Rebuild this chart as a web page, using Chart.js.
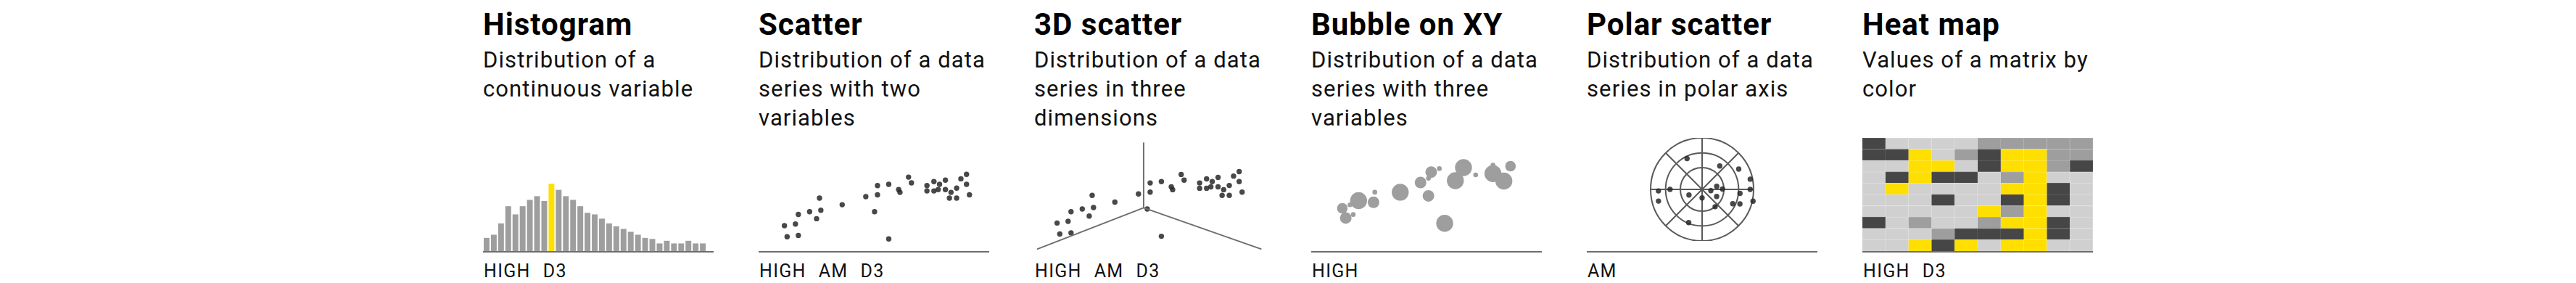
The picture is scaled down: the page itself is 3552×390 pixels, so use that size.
<!DOCTYPE html>
<html>
<head>
<meta charset="utf-8">
<title>Distribution charts</title>
<script src="https://cdn.jsdelivr.net/npm/chart.js@4.4.1/dist/chart.umd.min.js"></script>
<style>
  html, body { margin: 0; padding: 0; background: #fff; }
  body { width: 3552px; height: 390px; position: relative; overflow: hidden; font-family: Roboto, "Noto Sans", sans-serif; }
  .panel { position: absolute; top: 0; width: 320px; height: 390px; }
  .panel h2 { position: absolute; left: 0; top: 13px; margin: 0; font-size: 42px; line-height: 42px; font-weight: 700; letter-spacing: 1px; color: #000; white-space: nowrap; }
  .panel p { position: absolute; left: 0; top: 63px; margin: 0; font-size: 31px; line-height: 40px; letter-spacing: 1.1px; color: #111; white-space: nowrap; }
  .plot { position: absolute; left: 0; }
  .base { position: absolute; left: 0; top: 346px; width: 318px; height: 2px; background: #6e6e6e; }
  .tags { position: absolute; left: 1px; top: 361px; font-size: 25px; line-height: 25px; letter-spacing: 1.3px; color: #111; white-space: nowrap; }
  .tags span { margin-right: 17px; }
</style>
</head>
<body>

<div class="panel" style="left:666px">
  <h2>Histogram</h2>
  <p>Distribution of a<br>continuous variable</p>
  <canvas id="c-hist" class="plot" width="318" height="160" style="top:186px"></canvas>
  <div class="base"></div>
  <div class="tags"><span>HIGH</span><span>D3</span></div>
</div>

<div class="panel" style="left:1046px">
  <h2>Scatter</h2>
  <p>Distribution of a data<br>series with two<br>variables</p>
  <canvas id="c-scatter" class="plot" width="318" height="160" style="top:186px"></canvas>
  <div class="base"></div>
  <div class="tags"><span>HIGH</span><span>AM</span><span>D3</span></div>
</div>

<div class="panel" style="left:1426px">
  <h2>3D scatter</h2>
  <p>Distribution of a data<br>series in three<br>dimensions</p>
  <canvas id="c-3d" class="plot" width="318" height="164" style="top:186px"></canvas>
  <div class="tags"><span>HIGH</span><span>AM</span><span>D3</span></div>
</div>

<div class="panel" style="left:1808px">
  <h2>Bubble on XY</h2>
  <p>Distribution of a data<br>series with three<br>variables</p>
  <canvas id="c-bubble" class="plot" width="318" height="160" style="top:186px"></canvas>
  <div class="base"></div>
  <div class="tags"><span>HIGH</span></div>
</div>

<div class="panel" style="left:2188px">
  <h2>Polar scatter</h2>
  <p>Distribution of a data<br>series in polar axis</p>
  <canvas id="c-polar" class="plot" width="318" height="142" style="top:190px"></canvas>
  <div class="base"></div>
  <div class="tags"><span>AM</span></div>
</div>

<div class="panel" style="left:2568px">
  <h2>Heat map</h2>
  <p>Values of a matrix by<br>color</p>
  <canvas id="c-heat" class="plot" width="318" height="156" style="top:190px"></canvas>
  <div class="base"></div>
  <div class="tags"><span>HIGH</span><span>D3</span></div>
</div>

<script>
// colours
const GRAY = '#9e9e9e';
const YELLOW = '#ffdf00';
const DOT = 'rgba(40,40,40,0.85)';
const AXIS = '#6e6e6e';

// --- histogram ---
const histBins = ['1','2','3','4','5','6','7','8','9','10','11','12','13','14','15','16',
  '17','18','19','20','21','22','23','24','25','26','27','28','29','30','31','32'];
const histCounts = [5.0, 6.2, 10.5, 17.0, 13.9, 17.0, 19.4, 20.8, 19.0, 25.5, 23.2, 20.8, 19.4, 17.0, 14.5, 13.9,
  12.3, 10.5, 9.4, 8.4, 7.3, 6.2, 5.0, 4.6, 2.9, 3.9, 2.9, 2.9, 3.9, 2.9, 2.9];
const histHighlight = 9;

// --- scatter (also used by the 3D view) ---
const scatterX = [1.02, 1.14, 1.51, 1.64, 1.64, 2.14, 2.45, 2.58, 2.64, 3.59, 4.64, 5.03, 5.16, 5.16, 5.66, 5.66, 6.10, 6.16,
  6.54, 6.67, 7.36, 7.36, 7.67, 7.67, 7.86, 7.92, 8.18, 8.18, 8.43, 8.36, 8.68, 8.68, 8.87, 9.12, 9.12, 9.25];
const scatterY = [2.04, 1.04, 2.19, 1.15, 3.06, 3.31, 2.67, 4.54, 3.44, 3.94, 4.67, 3.31, 5.67, 4.84, 5.79, 0.84, 5.31, 5.06,
  6.44, 5.92, 5.67, 5.19, 6.04, 5.19, 5.31, 5.79, 6.17, 5.31, 5.06, 4.54, 4.54, 5.44, 6.29, 6.69, 5.79, 4.84];

// 3D axes: origin, top of vertical axis, left and right floor axes
const axis3dX = [4.87, 4.87, 0.13, 10.11];
const axis3dY = [3.42, 9.33, -0.33, -0.33];

// --- bubble ---
const bubbleX = [1.06, 1.22, 1.42, 1.57, 1.82, 2.52, 2.58, 3.77, 4.72, 5.09, 5.22, 5.09, 5.60, 5.85, 6.35, 6.73, 7.30, 8.11, 8.11, 8.62, 8.93];
const bubbleY = [3.46, 2.48, 3.81, 2.83, 4.23, 4.06, 5.08, 5.08, 6.06, 6.48, 7.11, 4.71, 7.46, 1.94, 6.25, 7.56, 6.83, 7.81, 6.96, 6.21, 7.71];
const bubbleR = [7.3, 8, 3.3, 3.3, 11.7, 8, 3.3, 11.7, 8, 3.3, 8, 8, 3.3, 11.7, 11.7, 11.7, 3.3, 3.3, 11.7, 11.7, 7.3];

// --- polar scatter (angle in degrees clockwise from top, radius 0..1) ---
const polarAngle = [334, 36.6, 60.5, 77.7, 268.4, 270.4, 255.4, 246.9, 180, 97.9, 77.8, 89.3, 115.8, 142.7, 96.2, 89.7, 115.1, 110.7, 102.6, 201.5];
const polarRadius = [0.667, 0.57, 0.813, 0.956, 0.849, 0.623, 0.877, 0.277, 0.165, 0.171, 0.29, 0.396, 0.314, 0.421, 0.74, 0.934, 0.656, 0.787, 1.015, 0.695];
const polarRings = [0, 0.423, 0.709, 1];

// --- heat map: 0 light, 1 mid, 2 dark, 3 yellow; rows top to bottom ---
const heatCols = ['c1','c2','c3','c4','c5','c6','c7','c8','c9','c10'];
const heatRows = [
  [2,0,0,0,0,1,1,1,1,1],
  [2,2,3,0,1,2,3,3,1,1],
  [0,0,3,3,0,2,3,3,1,2],
  [0,2,3,2,2,0,1,3,0,0],
  [0,3,0,0,0,0,3,3,2,0],
  [0,0,0,2,0,0,2,3,2,0],
  [0,0,0,0,0,3,1,3,0,0],
  [2,0,1,0,0,1,3,3,2,0],
  [0,0,0,1,2,2,2,3,2,0],
  [0,0,3,2,3,0,3,3,0,0]
];
const heatFill = ['#d0d0d0', '#9e9e9e', '#464646', YELLOW];
const heatEdge = ['#dedede', '#b0b0b0', '#5e5e5e', '#ffe84a'];

function baseOpts(scales) {
  return {
    responsive: false,
    animation: false,
    devicePixelRatio: 1,
    events: [],
    layout: { padding: 0 },
    plugins: { legend: { display: false }, tooltip: { enabled: false } },
    scales
  };
}

// histogram
new Chart(document.getElementById('c-hist'), {
  type: 'bar',
  data: {
    labels: histBins,
    datasets: [{
      data: histCounts,
      backgroundColor: histCounts.map((v, i) => i === histHighlight ? YELLOW : GRAY),
      borderWidth: 0,
      barPercentage: 0.8,
      categoryPercentage: 1
    }]
  },
  options: baseOpts({ x: { display: false }, y: { display: false, min: 0, max: 44 } })
});

// scatter
const scatterPts = scatterX.map((x, i) => ({ x, y: scatterY[i] }));
new Chart(document.getElementById('c-scatter'), {
  type: 'scatter',
  data: { datasets: [{ data: scatterPts, pointRadius: 3.7, backgroundColor: DOT, borderWidth: 0 }] },
  options: baseOpts({ x: { display: false, min: 0, max: 10 }, y: { display: false, min: 0, max: 10 } })
});

// 3D scatter: same points, projected view with three axes
const seg = (a, b) => [{ x: axis3dX[a], y: axis3dY[a] }, { x: axis3dX[b], y: axis3dY[b] }];
const axisLine = (d) => ({ type: 'line', data: d, borderColor: AXIS, borderWidth: 2, pointRadius: 0, clip: false, fill: false });
new Chart(document.getElementById('c-3d'), {
  type: 'scatter',
  data: {
    datasets: [
      axisLine(seg(0, 1)), axisLine(seg(0, 2)), axisLine(seg(0, 3)),
      { data: scatterPts, pointRadius: 3.7, backgroundColor: DOT, borderWidth: 0 }
    ]
  },
  options: baseOpts({ x: { display: false, min: 0.13, max: 10.13 }, y: { display: false, min: -0.5, max: 9.75 } })
});

// bubble
new Chart(document.getElementById('c-bubble'), {
  type: 'bubble',
  data: {
    datasets: [{
      data: bubbleX.map((x, i) => ({ x, y: bubbleY[i], r: bubbleR[i] })),
      backgroundColor: GRAY,
      borderWidth: 0
    }]
  },
  options: baseOpts({ x: { display: false, min: 0, max: 10 }, y: { display: false, min: 0, max: 10 } })
});

// polar scatter on a radar scale with one label per degree
const polarLabels = Array.from({ length: 360 }, () => '');
const polarSets = [];
polarAngle.forEach((a, i) => {
  const idx = Math.round(a) % 360;
  let ds = polarSets.find(d => d[idx] === null);
  if (!ds) { ds = new Array(360).fill(null); polarSets.push(ds); }
  ds[idx] = polarRadius[i];
});
new Chart(document.getElementById('c-polar'), {
  type: 'radar',
  data: {
    labels: polarLabels,
    datasets: polarSets.map(d => ({
      data: d, showLine: false, fill: false, pointRadius: 3.7,
      pointBackgroundColor: DOT, pointBorderWidth: 0, borderWidth: 0
    }))
  },
  options: baseOpts({
    r: {
      min: 0, max: 1,
      afterBuildTicks: s => { s.ticks = polarRings.map(v => ({ value: v })); },
      ticks: { display: false },
      pointLabels: { display: false },
      grid: { circular: true, color: '#5a5a5a', lineWidth: 2 },
      angleLines: { display: true, color: '#5a5a5a', lineWidth: c => c.index % 45 === 0 ? 2 : 0 }
    }
  })
});

// heat map as stacked unit bars, bottom row first
new Chart(document.getElementById('c-heat'), {
  type: 'bar',
  data: {
    labels: heatCols,
    datasets: heatRows.slice().reverse().map(row => ({
      data: row.map(() => 1),
      backgroundColor: row.map(l => heatFill[l]),
      borderColor: row.map(l => heatEdge[l]),
      borderWidth: { top: 1, right: 1, bottom: 0, left: 0 },
      borderSkipped: false,
      barPercentage: 1,
      categoryPercentage: 1
    }))
  },
  options: baseOpts({
    x: { display: false, stacked: true },
    y: { display: false, stacked: true, min: 0, max: 10 }
  })
});
</script>
</body>
</html>
